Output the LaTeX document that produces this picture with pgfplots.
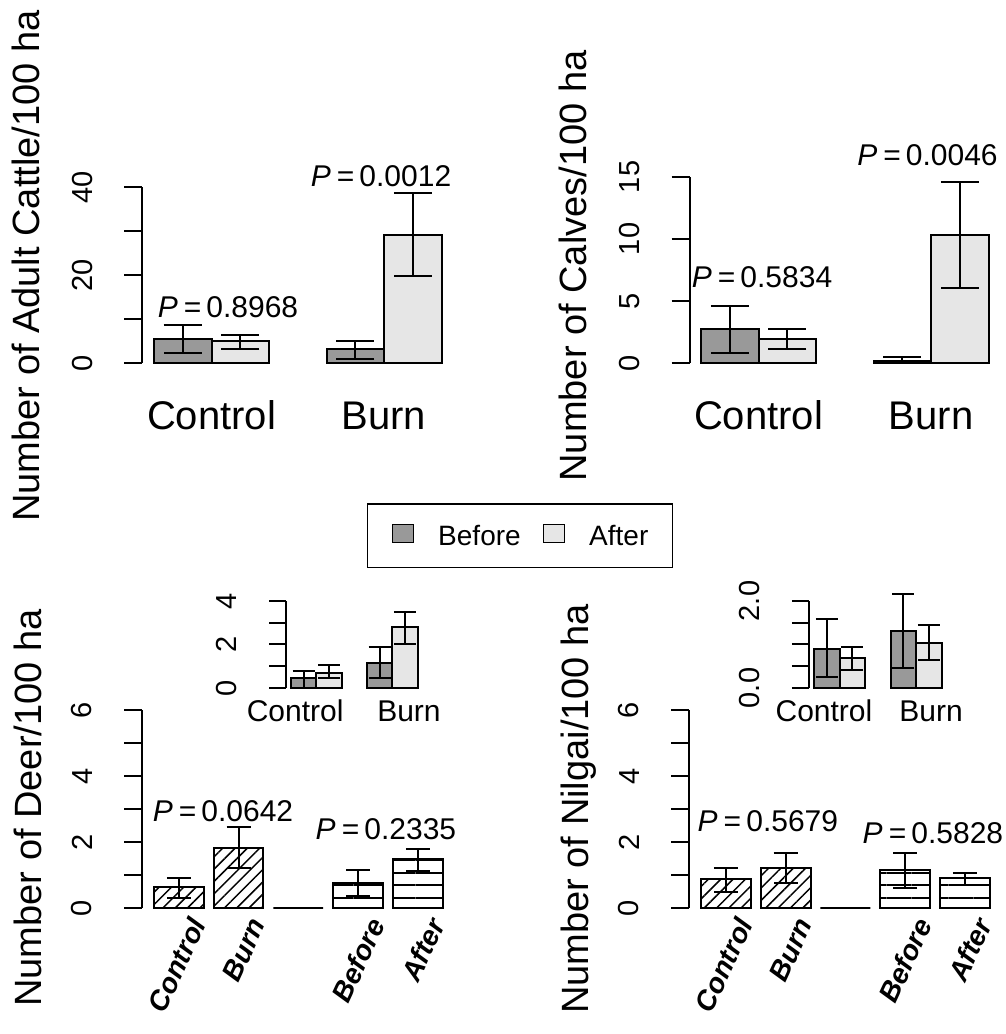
\documentclass[border=0pt]{standalone}
\usepackage{pgfplots}
\pgfplotsset{compat=1.18}
\usepackage{fontspec}
\setmainfont{Liberation Sans}
\usetikzlibrary{patterns.meta}
\definecolor{bef}{HTML}{999999}
\definecolor{aft}{HTML}{E6E6E6}
\newcommand{\fs}[1]{\fontsize{#1}{#1}\selectfont}
\newcommand{\pv}[1]{\textit{P}\hspace{0.2em}=\hspace{0.17em}#1}
\pgfplotsset{
  rbase/.style={scale only axis, anchor=south west, clip=false,
    axis y line*=left, axis x line*=bottom,
    x axis line style={draw=none}, xtick style={draw=none},
    y axis line style={line width=2pt, black},
    ytick style={line width=2pt, black},
    tick align=outside, major tick length=18pt,
    yticklabel style={xshift=-32pt, rotate=90, anchor=south, inner sep=0pt, font=\fs{29}},
    every axis y label/.style={rotate=90, anchor=base, font=\fs{38}},
  },
  rbar/.style={ybar, bar width=1, bar shift=0pt, draw=black, line width=2pt,
    /pgfplots/error bars/y dir=both, /pgfplots/error bars/y explicit,
    /pgfplots/error bars/error bar style={line width=2pt, black},
    /pgfplots/error bars/error mark options={rotate=90, line width=2pt, black, mark size=#1}},
  rlab/.style={xticklabel style={xshift=19pt, yshift=6pt, rotate=65, anchor=east, inner sep=0pt, font=\fs{28}\bfseries\itshape}},
}
\begin{document}
\begin{tikzpicture}
\path[use as bounding box] (0,0) rectangle (1006pt,1034pt);
% ---------- Adult cattle ----------
\begin{axis}[rbase, at={(142.5pt,671pt)}, width=310.5pt, height=176pt,
  xmin=0.8, xmax=6.2, ymin=0, ymax=40,
  ytick={0,10,20,30,40}, yticklabels={0,,20,,40},
  xtick={2,5}, xticklabels={Control,Burn},
  xticklabel style={anchor=base, yshift=-49pt, font=\fs{40}},
  ylabel={Number of Adult Cattle/100 ha},
  ylabel style={at={(axis description cs:-0.3333,0.551)}},
  legend image code/.code={\draw[#1] (0pt,-6pt) rectangle (21pt,12pt);},
  legend columns=2,
  legend style={at={(axis description cs:0.723,-0.7955)}, anchor=north west,
    draw=black, line width=1.5pt, inner xsep=24pt, inner ysep=20pt, font=\fs{28},
    nodes={inner sep=0pt},
    /tikz/every odd column/.append style={column sep=24pt},
    /tikz/every even column/.append style={column sep=22pt}},
]
\addplot[fill=bef, rbar=19pt, forget plot] table[x=x, y=y, y error plus=ep, y error minus=em] {
x y ep em
1.5 5.4 3.2 3.1
4.5 3.1 1.8 2.3
};
\addplot[fill=aft, rbar=19pt, forget plot] table[x=x, y=y, y error plus=ep, y error minus=em] {
x y ep em
2.5 4.93 1.43 1.82
5.5 29.1 9.5 9.4
};
\addlegendimage{fill=bef, draw=black, line width=1.5pt}
\addlegendentry{Before}
\addlegendimage{fill=aft, draw=black, line width=1.5pt}
\addlegendentry{After}
\node[anchor=base, font=\fs{30}] at (axis cs:2.287,10.23) {\pv{0.8968}};
\node[anchor=base, font=\fs{30}] at (axis cs:4.948,40.2) {\pv{0.0012}};
\end{axis}
% ---------- Calves ----------
\begin{axis}[rbase, at={(689.5pt,671pt)}, width=310.5pt, height=186pt,
  xmin=0.8, xmax=6.2, ymin=0, ymax=15,
  ytick={0,5,10,15}, yticklabels={0,5,10,15},
  xtick={2,5}, xticklabels={Control,Burn},
  xticklabel style={anchor=base, yshift=-49pt, font=\fs{40}},
  ylabel={Number of Calves/100 ha},
  ylabel style={at={(axis description cs:-0.3333,0.5215)}},
]
\addplot[fill=bef, rbar=19pt] table[x=x, y=y, y error plus=ep, y error minus=em] {
x y ep em
1.5 2.74 1.86 1.94
4.5 0.18 0.33 0.18
};
\addplot[fill=aft, rbar=19pt] table[x=x, y=y, y error plus=ep, y error minus=em] {
x y ep em
2.5 1.94 0.80 0.81
5.5 10.3 4.3 4.25
};
\node[anchor=base, font=\fs{30}] at (axis cs:2.061,6.05) {\pv{0.5834}};
\node[anchor=base, font=\fs{30}] at (axis cs:4.939,15.89) {\pv{0.0046}};
\end{axis}
% ---------- Deer ----------
\begin{axis}[rbase, rlab, at={(142.4pt,126pt)}, width=311.9pt, height=198pt,
  xmin=-0.032, xmax=6.232, ymin=0, ymax=6,
  ytick={0,1,2,3,4,5,6}, yticklabels={0,,2,,4,,6},
  xtick={0.7,1.9,4.3,5.5}, xticklabels={Control,Burn,Before,After},
  ylabel={Number of Deer/100 ha},
  ylabel style={at={(axis description cs:-0.325,0.505)}},
]
\addplot[rbar=12pt, pattern={Lines[angle=45,distance=8.7pt,line width=1.5pt]}] table[x=x, y=y, y error plus=ep, y error minus=em] {
x y ep em
0.7 0.64 0.28 0.35
1.9 1.81 0.65 0.59
};
\addplot[ybar, bar width=1, bar shift=0pt, draw=black, line width=2pt] coordinates {(3.1,0)};
\addplot[rbar=12pt, pattern={Lines[angle=0,distance=12.4pt,line width=2pt]}] table[x=x, y=y, y error plus=ep, y error minus=em] {
x y ep em
4.3 0.75 0.40 0.39
5.5 1.48 0.30 0.35
};
\node[anchor=base, font=\fs{30}] at (axis cs:1.586,2.615) {\pv{0.0642}};
\node[anchor=base, font=\fs{30}] at (axis cs:4.859,2.08) {\pv{0.2335}};
\end{axis}
% ---------- Nilgai ----------
\begin{axis}[rbase, rlab, at={(689.4pt,126pt)}, width=311.9pt, height=198pt,
  xmin=-0.032, xmax=6.232, ymin=0, ymax=6,
  ytick={0,1,2,3,4,5,6}, yticklabels={0,,2,,4,,6},
  xtick={0.7,1.9,4.3,5.5}, xticklabels={Control,Burn,Before,After},
  ylabel={Number of Nilgai/100 ha},
  ylabel style={at={(axis description cs:-0.325,0.5)}},
]
\addplot[rbar=12pt, pattern={Lines[angle=45,distance=8.7pt,line width=1.5pt]}] table[x=x, y=y, y error plus=ep, y error minus=em] {
x y ep em
0.7 0.87 0.33 0.38
1.9 1.20 0.48 0.45
};
\addplot[ybar, bar width=1, bar shift=0pt, draw=black, line width=2pt] coordinates {(3.1,0)};
\addplot[rbar=12pt, pattern={Lines[angle=0,distance=12.4pt,line width=2pt]}] table[x=x, y=y, y error plus=ep, y error minus=em] {
x y ep em
4.3 1.15 0.53 0.53
5.5 0.92 0.15 0.22
};
\node[anchor=base, font=\fs{30}] at (axis cs:1.545,2.31) {\pv{0.5679}};
\node[anchor=base, font=\fs{30}] at (axis cs:4.859,1.96) {\pv{0.5828}};
\end{axis}
% ---------- Deer inset ----------
\begin{axis}[rbase, at={(286pt,346pt)}, width=136.6pt, height=87pt,
  major tick length=17pt,
  xmin=0.8, xmax=6.2, ymin=0, ymax=4,
  ytick={0,1,2,3,4}, yticklabels={0,,2,,4},
  xtick={1.16,5.66}, xticklabels={Control,Burn},
  xticklabel style={anchor=base, yshift=-17pt, font=\fs{30}},
]
\addplot[fill=bef, rbar=11pt] table[x=x, y=y, y error plus=ep, y error minus=em] {
x y ep em
1.5 0.45 0.35 0.45
4.5 1.16 0.71 0.71
};
\addplot[fill=aft, rbar=11pt] table[x=x, y=y, y error plus=ep, y error minus=em] {
x y ep em
2.5 0.70 0.36 0.25
5.5 2.79 0.72 0.78
};
\end{axis}
% ---------- Nilgai inset ----------
\begin{axis}[rbase, at={(808.9pt,346pt)}, width=137.7pt, height=87pt,
  major tick length=17pt,
  xmin=0.8, xmax=6.2, ymin=0, ymax=2,
  ytick={0,0.5,1,1.5,2}, yticklabels={0.0,,,,2.0},
  xtick={1.39,5.59}, xticklabels={Control,Burn},
  xticklabel style={anchor=base, yshift=-17pt, font=\fs{30}},
]
\addplot[fill=bef, rbar=11pt] table[x=x, y=y, y error plus=ep, y error minus=em] {
x y ep em
1.5 0.90 0.68 0.64
4.5 1.31 0.85 0.86
};
\addplot[fill=aft, rbar=11pt] table[x=x, y=y, y error plus=ep, y error minus=em] {
x y ep em
2.5 0.68 0.26 0.27
5.5 1.04 0.41 0.40
};
\end{axis}
\end{tikzpicture}
\end{document}
